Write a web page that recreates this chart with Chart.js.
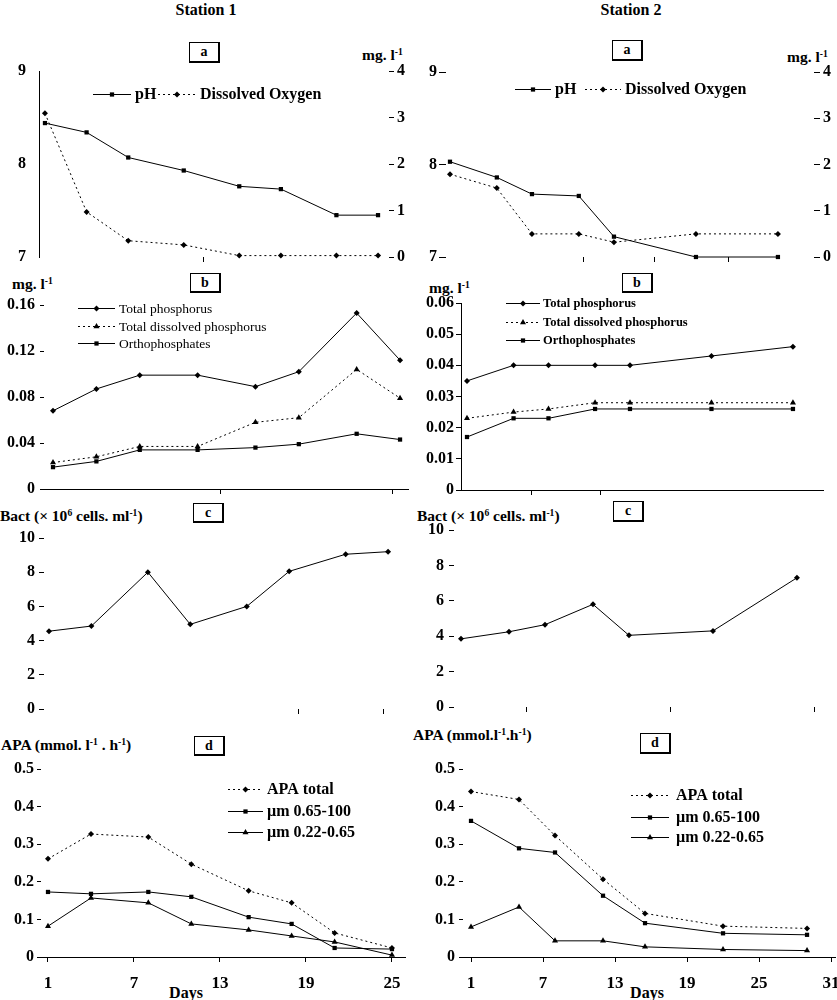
<!DOCTYPE html>
<html>
<head>
<meta charset="utf-8">
<title>Station 1 / Station 2</title>
<script src="https://cdn.jsdelivr.net/npm/chart.js@4.4.1/dist/chart.umd.min.js"></script>
<style>
  html, body { margin: 0; padding: 0; background: #fff; }
  #page { position: relative; width: 837px; height: 1000px; overflow: hidden;
          font-family: "Liberation Serif", "Times New Roman", serif; font-weight: bold; color: #000; }
  #page canvas { position: absolute; left: -60px; top: 0; }
  .c { position: absolute; transform: translate(-50%, -50%); white-space: nowrap; font-size: 16px; line-height: 1; }
  .l { position: absolute; transform: translateY(-50%); white-space: nowrap; font-size: 15.5px; line-height: 1; }
  .box { position: absolute; box-sizing: border-box; border: 1px solid #000; border-right-width: 2px; border-bottom-width: 2px;
         display: flex; align-items: center; justify-content: center; font-size: 14px; background: #fff; }
  sup { font-size: 0.62em; vertical-align: 0.5em; line-height: 0; }
</style>
</head>
<body>
<div id="page">
  <div class="c" style="left:206px;top:10px">Station 1</div>
  <div class="c" style="left:631px;top:10px">Station 2</div>

  <div class="box" style="left:189px;top:42px;width:31px;height:21px">a</div>
  <div class="box" style="left:612px;top:40px;width:31px;height:21px">a</div>
  <div class="l" style="left:362px;top:55px">mg. l<sup>-1</sup></div>
  <div class="l" style="left:787px;top:57px">mg. l<sup>-1</sup></div>

  <div class="box" style="left:190px;top:273px;width:31px;height:20px">b</div>
  <div class="box" style="left:622px;top:273px;width:31px;height:20px">b</div>
  <div class="l" style="left:12px;top:284px">mg. l<sup>-1</sup></div>
  <div class="l" style="left:429px;top:288px">mg. l<sup>-1</sup></div>

  <div class="box" style="left:193px;top:503px;width:31px;height:20px">c</div>
  <div class="box" style="left:613px;top:501px;width:31px;height:21px">c</div>
  <div class="l" style="left:0px;top:516px">Bact (× 10<sup>6</sup> cells. ml<sup>-1</sup>)</div>
  <div class="l" style="left:417px;top:516px">Bact (× 10<sup>6</sup> cells. ml<sup>-1</sup>)</div>

  <div class="box" style="left:194px;top:736px;width:31px;height:20px">d</div>
  <div class="box" style="left:640px;top:733px;width:31px;height:21px">d</div>
  <div class="l" style="left:1px;top:745px">APA (mmol. l<sup>-1</sup> . h<sup>-1</sup>)</div>
  <div class="l" style="left:413px;top:735px">APA (mmol.l<sup>-1</sup>.h<sup>-1</sup>)</div>
  <div class="c" style="left:186px;top:993px">Days</div>
  <div class="c" style="left:647px;top:993px">Days</div>

  <canvas id="a1" width="957" height="1000"></canvas>
  <canvas id="a2" width="957" height="1000"></canvas>
  <canvas id="b1" width="957" height="1000"></canvas>
  <canvas id="b2" width="957" height="1000"></canvas>
  <canvas id="c1" width="957" height="1000"></canvas>
  <canvas id="c2" width="957" height="1000"></canvas>
  <canvas id="d1" width="957" height="1000"></canvas>
  <canvas id="d2" width="957" height="1000"></canvas>
</div>
<script>
// ---- Station 1 ----
const daysA1 = [1, 4, 7, 11, 15, 18, 22, 25];
const phA1 = [8.44, 8.34, 8.07, 7.93, 7.76, 7.73, 7.45, 7.45];
const oxygenA1 = [3.09, 0.97, 0.35, 0.26, 0.03, 0.03, 0.03, 0.03];

const daysB1 = [1, 4, 7, 11, 15, 18, 22, 25];
const totalPB1 = [0.068, 0.087, 0.099, 0.099, 0.089, 0.102, 0.153, 0.112];
const dissolvedPB1 = [0.023, 0.028, 0.037, 0.037, 0.058, 0.062, 0.104, 0.079];
const orthoB1 = [0.019, 0.024, 0.034, 0.034, 0.036, 0.039, 0.048, 0.043];

const daysC1 = [1, 4, 8, 11, 15, 18, 22, 25];
const bactC1 = [4.55, 4.85, 8.0, 4.95, 6.0, 8.05, 9.05, 9.2];

const daysD1 = [1, 4, 8, 11, 15, 18, 21, 25];
const apaTotalD1 = [0.261, 0.327, 0.319, 0.247, 0.176, 0.144, 0.064, 0.024];
const apaLargeD1 = [0.173, 0.168, 0.173, 0.160, 0.106, 0.088, 0.024, 0.021];
const apaSmallD1 = [0.082, 0.157, 0.144, 0.088, 0.072, 0.056, 0.040, 0.005];

// ---- Station 2 ----
const daysA2 = [1, 5, 8, 12, 15, 22, 29];
const phA2 = [8.03, 7.86, 7.68, 7.66, 7.22, 7.0, 7.0];
const oxygenA2 = [1.79, 1.49, 0.5, 0.5, 0.32, 0.5, 0.5];

const daysB2 = [1, 5, 8, 12, 15, 22, 29];
const totalPB2 = [0.035, 0.04, 0.04, 0.04, 0.04, 0.043, 0.046];
const dissolvedPB2 = [0.023, 0.025, 0.026, 0.028, 0.028, 0.028, 0.028];
const orthoB2 = [0.017, 0.023, 0.023, 0.026, 0.026, 0.026, 0.026];

const daysC2 = [1, 5, 8, 12, 15, 22, 29];
const bactC2 = [3.85, 4.25, 4.65, 5.8, 4.05, 4.3, 7.3];

const daysD2 = [1, 5, 8, 12, 15.5, 22, 29];
const apaTotalD2 = [0.44, 0.419, 0.323, 0.207, 0.116, 0.082, 0.076];
const apaLargeD2 = [0.362, 0.289, 0.278, 0.163, 0.09, 0.063, 0.059];
const apaSmallD2 = [0.08, 0.133, 0.043, 0.043, 0.027, 0.02, 0.017];

// tick labels
const phTicks = [7, 8, 9];
const oxygenTicks = [0, 1, 2, 3, 4];
const pTicks1 = [0, 0.04, 0.08, 0.12, 0.16];
const pTicks2 = [0, 0.01, 0.02, 0.03, 0.04, 0.05, 0.06];
const bactTicks = [0, 2, 4, 6, 8, 10];
const apaTicks = [0, 0.1, 0.2, 0.3, 0.4, 0.5];
const dayTicks1 = [1, 7, 13, 19, 25];
const dayTicks2 = [1, 7, 13, 19, 25, 31];

const SERIF = '"Liberation Serif", "Times New Roman", serif';
Chart.defaults.font.family = SERIF;
Chart.defaults.font.weight = 'bold';
Chart.defaults.font.size = 16;
Chart.defaults.color = '#000';

const OFF = 60;        // canvases start 60px left of the page so axis labels have room
const CW = 957;        // canvas width
const DOTS = [2, 3];

// legend drawn as a line sample with the marker in the middle
const sampleLegend = {
  id: 'sampleLegend',
  afterDraw(chart, args, opts) {
    if (!opts || !opts.items) return;
    const ctx = chart.ctx;
    ctx.save();
    ctx.translate(OFF, 0);
    opts.items.forEach(it => {
      const ds = chart.data.datasets[it.ds];
      ctx.strokeStyle = '#000';
      ctx.fillStyle = '#000';
      ctx.lineWidth = 1;
      ctx.setLineDash(ds.borderDash || []);
      ctx.beginPath();
      ctx.moveTo(it.x, it.y + 0.5);
      ctx.lineTo(it.x + opts.len, it.y + 0.5);
      ctx.stroke();
      ctx.setLineDash([]);
      Chart.helpers.drawPoint(ctx, { pointStyle: ds.pointStyle, radius: ds.pointRadius, borderWidth: 0, rotation: 0 },
        it.x + opts.len / 2, it.y + 0.5);
      ctx.font = opts.font;
      ctx.textBaseline = 'middle';
      ctx.textAlign = 'left';
      ctx.fillText(ds.label, it.x + opts.len + opts.gap, it.y + 1);
    });
    ctx.restore();
  }
};
Chart.register(sampleLegend);

function series(label, xs, ys, marker, dotted, axis) {
  return {
    label: label,
    data: xs.map((x, i) => ({ x: x, y: ys[i] })),
    borderColor: '#000', borderWidth: 1, borderDash: dotted ? DOTS : [],
    backgroundColor: '#000', pointBackgroundColor: '#000', pointBorderWidth: 0,
    pointStyle: marker, pointRadius: marker === 'triangle' ? 3.5 : 3, pointHoverRadius: 3,
    tension: 0, fill: false, clip: false, yAxisID: axis || 'y'
  };
}

function yAxis(ticks, o) {
  return {
    type: 'linear', position: o.right ? 'right' : 'left',
    min: ticks[0], max: ticks[ticks.length - 1],
    afterBuildTicks: s => { s.ticks = ticks.map(v => ({ value: v })); },
    afterFit: s => { s.width = o.right ? 30 : 60; s.paddingTop = 0; s.paddingBottom = 0; },
    border: { display: !!o.line, color: '#000', width: 1 },
    grid: { drawOnChartArea: false, drawTicks: o.tl > 0, tickLength: o.tl, color: '#000', lineWidth: 1 },
    ticks: { padding: o.pad, font: { size: 16, weight: 'bold' }, callback: v => String(v) }
  };
}

function xAxis(o) {
  return {
    type: 'linear', min: o.min, max: o.max,
    afterBuildTicks: s => { s.ticks = o.ticks.map(v => ({ value: v })); },
    afterFit: s => { s.height = 40; s.paddingLeft = 0; s.paddingRight = 0; },
    border: { display: !!o.line, color: '#000', width: 1 },
    grid: { drawOnChartArea: false, drawTicks: true, tickLength: 5, color: '#000', lineWidth: 1 },
    ticks: { display: !!o.labels, padding: 11, autoSkip: false, maxRotation: 0,
             font: { size: 17, weight: 'bold' }, callback: v => String(v) }
  };
}

function makePanel(id, area, scales, datasets, legend) {
  const [x0, y0, x1, y1] = area;
  new Chart(document.getElementById(id), {
    type: 'line',
    data: { datasets: datasets },
    options: {
      responsive: false, animation: false, events: [],
      layout: { padding: { left: x0 + OFF - 60, top: y0, right: CW - (x1 + OFF) - (scales.y2 ? 30 : 0), bottom: 1000 - y1 - 40 } },
      scales: scales,
      plugins: { legend: { display: false }, tooltip: { enabled: false }, sampleLegend: legend }
    }
  });
}

// a: pH and dissolved oxygen
makePanel('a1', [39, 71, 389, 257], {
  x: xAxis({ min: 0.57, max: 25.79, ticks: [12.4] }),
  y: yAxis(phTicks, { line: true, tl: 0, pad: 13 }),
  y2: yAxis(oxygenTicks, { right: true, tl: 5, pad: 3 })
}, [
  series('pH', daysA1, phA1, 'rect', false, 'y'),
  series('Dissolved Oxygen', daysA1, oxygenA1, 'rectRot', true, 'y2')
], { font: 'bold 16px ' + SERIF, len: 38, gap: 4, items: [{ ds: 0, x: 93, y: 94 }, { ds: 1, x: 158, y: 94 }] });

makePanel('a2', [446, 72, 814, 257], {
  x: xAxis({ min: 0.66, max: 32.08, ticks: [12.44, 18.5, 24.74] }),
  y: yAxis(phTicks, { tl: 7, pad: 2 }),
  y2: yAxis(oxygenTicks, { right: true, tl: 6, pad: 3 })
}, [
  series('pH', daysA2, phA2, 'rect', false, 'y'),
  series('Dissolved Oxygen', daysA2, oxygenA2, 'rectRot', true, 'y2')
], { font: 'bold 16px ' + SERIF, len: 36, gap: 4, items: [{ ds: 0, x: 515, y: 89 }, { ds: 1, x: 585, y: 89 }] });

// b: phosphorus
makePanel('b1', [44, 305, 408, 489], {
  x: xAxis({ min: 0.378, max: 25.55, ticks: [12.55, 24.5], line: true }),
  y: yAxis(pTicks1, { tl: 4, pad: 5 })
}, [
  series('Total phosphorus', daysB1, totalPB1, 'rectRot', false),
  series('Total dissolved phosphorus', daysB1, dissolvedPB1, 'triangle', true),
  series('Orthophosphates', daysB1, orthoB1, 'rect', false)
], { font: '13.5px ' + SERIF, len: 37, gap: 4,
     items: [{ ds: 0, x: 78, y: 308 }, { ds: 1, x: 78, y: 326 }, { ds: 2, x: 78, y: 343 }] });

makePanel('b2', [461, 303, 823, 490], {
  x: xAxis({ min: 0.485, max: 31.58, ticks: [6.5, 12.5], line: true }),
  y: yAxis(pTicks2, { line: true, tl: 5, pad: 2 })
}, [
  series('Total phosphorus', daysB2, totalPB2, 'rectRot', false),
  series('Total dissolved phosphorus', daysB2, dissolvedPB2, 'triangle', true),
  series('Orthophosphates', daysB2, orthoB2, 'rect', false)
], { font: 'bold 12.5px ' + SERIF, len: 34, gap: 3,
     items: [{ ds: 0, x: 506, y: 303 }, { ds: 1, x: 506, y: 322 }, { ds: 2, x: 506, y: 340 }] });

// c: bacteria
makePanel('c1', [44, 538, 405, 709], {
  x: xAxis({ min: 0.646, max: 26.2, ticks: [18.63, 24.65] }),
  y: yAxis(bactTicks, { tl: 5, pad: 4 })
}, [series('Bact', daysC1, bactC1, 'rectRot', false)], null);

makePanel('c2', [454, 530, 820, 707], {
  x: xAxis({ min: 0.417, max: 30.92, ticks: [6.5, 18.5, 30.5] }),
  y: yAxis(bactTicks, { tl: 5, pad: 5 })
}, [series('Bact', daysC2, bactC2, 'rectRot', false)], null);

// d: alkaline phosphatase activity
makePanel('d1', [41, 769, 405, 957], {
  x: xAxis({ min: 0.512, max: 25.91, ticks: dayTicks1, labels: true, line: true }),
  y: yAxis(apaTicks, { tl: 4, pad: 3 })
}, [
  series('APA total', daysD1, apaTotalD1, 'rectRot', true),
  series('µm 0.65-100', daysD1, apaLargeD1, 'rect', false),
  series('µm 0.22-0.65', daysD1, apaSmallD1, 'triangle', false)
], { font: 'bold 16px ' + SERIF, len: 35, gap: 4,
     items: [{ ds: 0, x: 228, y: 789 }, { ds: 1, x: 228, y: 811 }, { ds: 2, x: 228, y: 832 }] });

makePanel('d2', [463, 769, 835, 957], {
  x: xAxis({ min: 0.333, max: 31.33, ticks: dayTicks2, labels: true, line: true }),
  y: yAxis(apaTicks, { tl: 4, pad: 4 })
}, [
  series('APA total', daysD2, apaTotalD2, 'rectRot', true),
  series('µm 0.65-100', daysD2, apaLargeD2, 'rect', false),
  series('µm 0.22-0.65', daysD2, apaSmallD2, 'triangle', false)
], { font: 'bold 16px ' + SERIF, len: 38, gap: 7,
     items: [{ ds: 0, x: 631, y: 795 }, { ds: 1, x: 631, y: 817 }, { ds: 2, x: 631, y: 837 }] });
</script>
</body>
</html>
